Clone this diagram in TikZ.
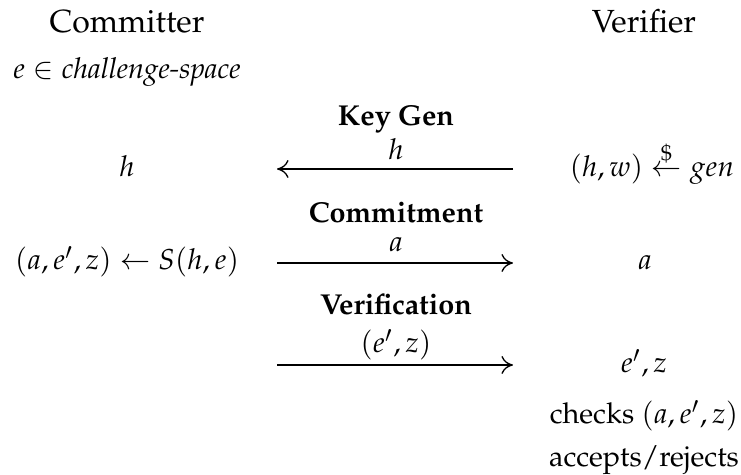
\documentclass[tikz,border=0pt]{standalone}
\usepackage[T1]{fontenc}
\usepackage{mathpazo}
\usepackage{amsmath}
\usepackage{tikz}
\usetikzlibrary{arrows.meta, positioning, calc}

\tikzset{
    txt/.style={anchor=base, inner sep=0pt, outer sep=0pt, font=\fontsize{9}{11}\selectfont},
    party/.style={txt, font=\normalsize},
    msg/.style={line width=0.42pt, -{Computer Modern Rightarrow[length=3.6pt, width=5.6pt]}},
}

\begin{document}
\begin{tikzpicture}[x=0.3125pt, y=-0.3125pt]
    \useasboundingbox (0,0) rectangle (741,475);
    % parties
    \node[party] (committer) at (127,33) {Committer};
    \node[party] (verifier) at (644,33) {Verifier};
    \node[txt] (chspace) at (127,79) {$e \in \textit{challenge-space}$};
    % key generation
    \node[txt] (kgTitle) at (396,126) {\textbf{Key Gen}};
    \node[txt] (kgMsg) at (396,160) {$h$};
    \coordinate (kgL) at (277,169);
    \coordinate (kgR) at (513,169);
    \draw[msg] (kgR) -- (kgL);
    \node[txt] (cH) at (127,177) {$h$};
    \node[txt] (vGen) at (652,177) {$(h,w) \stackrel{\$}{\leftarrow} gen$};
    % commitment
    \node[txt] (cmTitle) at (396,223) {\textbf{Commitment}};
    \node[txt] (cmMsg) at (396,252) {$a$};
    \coordinate (cmL) at (277,263);
    \coordinate (cmR) at (513,263);
    \draw[msg] (cmL) -- (cmR);
    \node[txt] (cSim) at (127,270) {$(a,e',z) \leftarrow S(h,e)$};
    \node[txt] (vA) at (645,270) {$a$};
    % verification
    \node[txt] (vfTitle) at (396,315) {\textbf{Verification}};
    \node[txt] (vfMsg) at (396,353) {$(e',z)$};
    \coordinate (vfL) at (277,365);
    \coordinate (vfR) at (513,365);
    \draw[msg] (vfL) -- (vfR);
    \node[txt] (vEz) at (644,373) {$e',z$};
    \node[txt] (vCheck) at (644,424) {checks $(a,e',z)$};
    \node[txt] (vAcc) at (644,467) {accepts/rejects};
\end{tikzpicture}
\end{document}
